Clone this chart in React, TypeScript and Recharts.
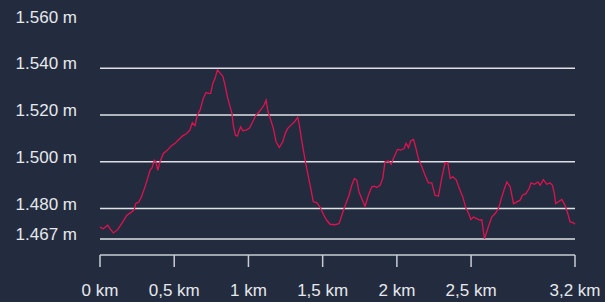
import React from 'react';
import { LineChart, Line, XAxis, YAxis, ReferenceLine } from 'recharts';

// Distance along the route (km) and elevation (m)
const distanceKm = [
  0, 0.022, 0.052, 0.067, 0.09, 0.119, 0.146, 0.18, 0.213, 0.231, 0.24, 0.263, 0.281, 0.303, 0.321,
  0.337, 0.352, 0.366, 0.377, 0.389, 0.404, 0.427, 0.449, 0.478, 0.505, 0.528, 0.555, 0.584, 0.606,
  0.622, 0.64, 0.656, 0.674, 0.696, 0.714, 0.73, 0.746, 0.759, 0.775, 0.791, 0.809, 0.827, 0.842,
  0.858, 0.876, 0.889, 0.898, 0.912, 0.925, 0.939, 0.948, 0.962, 0.984, 1.006, 1.029, 1.051, 1.073,
  1.09, 1.105, 1.119, 1.132, 1.15, 1.168, 1.186, 1.208, 1.231, 1.25, 1.265, 1.287, 1.31, 1.332,
  1.341, 1.355, 1.37, 1.386, 1.404, 1.422, 1.437, 1.46, 1.482, 1.505, 1.527, 1.55, 1.584, 1.611,
  1.633, 1.656, 1.678, 1.696, 1.714, 1.73, 1.745, 1.768, 1.786, 1.808, 1.831, 1.849, 1.864, 1.887,
  1.905, 1.92, 1.943, 1.961, 1.981, 2.004, 2.026, 2.049, 2.062, 2.078, 2.094, 2.112, 2.129, 2.145,
  2.168, 2.19, 2.212, 2.235, 2.257, 2.28, 2.302, 2.325, 2.343, 2.359, 2.376, 2.399, 2.421, 2.444,
  2.466, 2.484, 2.498, 2.516, 2.538, 2.561, 2.572, 2.59, 2.612, 2.639, 2.662, 2.684, 2.707, 2.725,
  2.741, 2.763, 2.786, 2.808, 2.83, 2.846, 2.869, 2.891, 2.904, 2.927, 2.95, 2.965, 2.987, 3.01,
  3.032, 3.048, 3.061, 3.07, 3.088, 3.111, 3.133, 3.151, 3.167, 3.19, 3.2,
];

const elevationM = [
  1472.1, 1471.4, 1472.9, 1471.4, 1469.6, 1471.0, 1473.6, 1477.1, 1478.6, 1479.6, 1482.1, 1482.9,
  1485.3, 1489.3, 1492.9, 1496.4, 1497.6, 1500.7, 1500.0, 1496.4, 1500.0, 1503.6, 1504.7, 1506.7,
  1507.9, 1509.3, 1511.0, 1512.1, 1513.6, 1516.7, 1515.5, 1520.0, 1522.1, 1527.1, 1529.6, 1529.3,
  1529.3, 1533.3, 1535.7, 1539.3, 1537.9, 1536.7, 1532.9, 1527.9, 1523.6, 1520.7, 1515.7, 1511.4,
  1511.0, 1513.6, 1515.0, 1513.3, 1513.6, 1514.3, 1517.1, 1520.0, 1521.4, 1522.9, 1524.3, 1526.4,
  1521.4, 1517.9, 1514.3, 1508.6, 1506.1, 1508.6, 1512.5, 1514.3, 1515.7, 1517.1, 1519.0, 1516.4,
  1510.7, 1505.0, 1499.3, 1493.6, 1487.9, 1482.9, 1482.6, 1480.7, 1477.6, 1475.0, 1473.3, 1473.1,
  1473.6, 1477.9, 1482.1, 1485.7, 1490.0, 1492.9, 1492.1, 1487.1, 1483.6, 1481.0, 1485.7, 1489.3,
  1489.6, 1489.0, 1490.0, 1492.9, 1500.0, 1500.4, 1499.0, 1502.1, 1505.3, 1505.0, 1505.7, 1507.9,
  1506.1, 1509.0, 1509.6, 1505.7, 1501.4, 1497.9, 1494.3, 1491.0, 1491.0, 1485.7, 1485.3, 1492.9,
  1499.6, 1499.6, 1492.9, 1493.6, 1492.4, 1488.6, 1485.0, 1480.0, 1477.9, 1475.3, 1476.4, 1475.7,
  1475.0, 1475.3, 1467.1, 1471.4, 1476.4, 1477.9, 1480.0, 1485.0, 1488.6, 1491.4, 1489.3, 1482.1,
  1482.9, 1483.6, 1485.7, 1486.4, 1488.6, 1491.0, 1490.4, 1491.4, 1490.0, 1492.4, 1490.4, 1491.0,
  1490.0, 1486.4, 1482.1, 1482.9, 1483.9, 1481.4, 1477.9, 1474.3, 1473.9, 1473.3,
];

const yTicks = [1467, 1480, 1500, 1520, 1540, 1560];
const gridValues = [1467, 1480, 1500, 1520, 1540];
const xTicks = [0, 0.5, 1, 1.5, 2, 2.5, 3.2];

const data = distanceKm.map((d, i) => ({ km: d, ele: elevationM[i] }));

const fmtKm = (v: number) => `${String(v).replace('.', ',')} km`;
const fmtM = (v: number) => `${v.toLocaleString('de-DE')} m`;

const textColor = '#e6e8ec';
const fontFamily = '"Liberation Sans", Arial, sans-serif';

const YTick = (props: any) => {
  const { x, y, payload } = props;
  return (
    <text x={x} y={y + 1} textAnchor="end" fill={textColor} fontSize={17} fontFamily={fontFamily}>
      {fmtM(payload.value)}
    </text>
  );
};

const XTick = (props: any) => {
  const { x, y, payload } = props;
  return (
    <text x={x} y={y + 29} textAnchor="middle" fill={textColor} fontSize={17} fontFamily={fontFamily}>
      {fmtKm(payload.value)}
    </text>
  );
};

export default function App() {
  return (
    <div style={{ position: 'fixed', left: 0, top: 0, width: 605, height: 302, background: '#232c3f' }}>
      <LineChart width={605} height={302} data={data} margin={{ top: 21.5, right: 30, left: 0, bottom: 0 }}>
        <XAxis
          dataKey="km"
          type="number"
          domain={[0, 3.2]}
          ticks={xTicks}
          height={47}
          tickSize={12}
          tickMargin={0}
          axisLine={{ stroke: '#c9ccd2', strokeWidth: 1.5 }}
          tickLine={{ stroke: '#c9ccd2', strokeWidth: 1.5 }}
          tick={<XTick />}
          interval={0}
        />
        <YAxis
          type="number"
          domain={[1460.16, 1560]}
          ticks={yTicks}
          width={100}
          axisLine={false}
          tickLine={false}
          tickSize={0}
          tickMargin={23}
          tick={<YTick />}
          interval={0}
          allowDataOverflow
        />
        {gridValues.map((v) => (
          <ReferenceLine key={v} y={v} stroke="#dfe1e5" strokeWidth={1.5} />
        ))}
        <Line
          type="linear"
          dataKey="ele"
          stroke="#e0114f"
          strokeWidth={1.3}
          dot={false}
          isAnimationActive={false}
        />
      </LineChart>
    </div>
  );
}
